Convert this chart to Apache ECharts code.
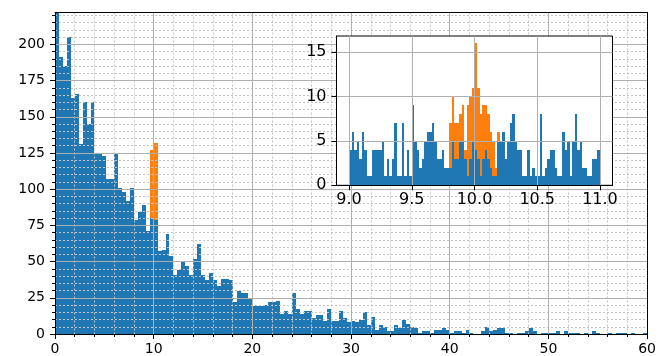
<!DOCTYPE html>
<html>
<head>
<meta charset="utf-8">
<script src="https://cdn.jsdelivr.net/npm/echarts@6/dist/echarts.min.js"></script>
<style>
  html, body { margin: 0; padding: 0; background: #ffffff; }
  #chart { width: 659px; height: 356px; }
</style>
</head>
<body>
<div id="chart"></div>
<script>
// ---- Main histogram: counts per 0.4-wide bin over [0, 60) ----
const mainBinStart = 0;
const mainBinWidth = 0.4;
const mainBlue = [
  222, 191, 185, 205, 163, 166, 131, 160, 145, 160,
  125, 124, 123, 107, 107, 125, 101, 98, 92, 101,
  79, 84, 89, 71, 80, 79, 57, 58, 69, 54,
  41, 44, 50, 47, 41, 52, 62, 41, 37, 42,
  37, 33, 38, 38, 37, 22, 30, 28, 28, 24,
  19, 19, 19, 20, 22, 22, 23, 14, 16, 14,
  28, 17, 14, 16, 16, 11, 13, 13, 9, 17,
  9, 9, 16, 11, 8, 9, 8, 10, 15, 6,
  12, 3, 6, 5, 2, 2, 6, 4, 10, 7,
  5, 4, 1, 2, 2, 1, 3, 3, 4, 3,
  1, 2, 2, 1, 3, 1, 0, 0, 2, 5,
  2, 3, 4, 4, 1, 1, 0, 1, 1, 2,
  4, 2, 0, 1, 1, 1, 1, 2, 0, 2,
  1, 1, 1, 0, 1, 0, 2, 1, 0, 0,
  1, 0, 1, 1, 1, 0, 1, 0, 0, 1
];
const mainOrange = [
  0, 0, 0, 0, 0, 0, 0, 0, 0, 0,
  0, 0, 0, 0, 0, 0, 0, 0, 0, 0,
  0, 0, 0, 0, 47, 53, 0, 0, 0, 0,
  0, 0, 0, 0, 0, 0, 0, 0, 0, 0,
  0, 0, 0, 0, 0, 0, 0, 0, 0, 0,
  0, 0, 0, 0, 0, 0, 0, 0, 0, 0,
  0, 0, 0, 0, 0, 0, 0, 0, 0, 0,
  0, 0, 0, 0, 0, 0, 0, 0, 0, 0,
  0, 0, 0, 0, 0, 0, 0, 0, 0, 0,
  0, 0, 0, 0, 0, 0, 0, 0, 0, 0,
  0, 0, 0, 0, 0, 0, 0, 0, 0, 0,
  0, 0, 0, 0, 0, 0, 0, 0, 0, 0,
  0, 0, 0, 0, 0, 0, 0, 0, 0, 0,
  0, 0, 0, 0, 0, 0, 0, 0, 0, 0,
  0, 0, 0, 0, 0, 0, 0, 0, 0, 0
];

// ---- Inset histogram: counts per 0.02-wide bin over [9, 11) ----
const insetBinStart = 9;
const insetBinWidth = 0.02;
const insetBlue = [
  4, 6, 4, 5, 3, 6, 4, 1, 1, 4,
  4, 4, 4, 5, 1, 3, 1, 3, 7, 1,
  1, 7, 1, 4, 1, 9, 5, 4, 2, 3,
  5, 6, 6, 7, 5, 3, 3, 4, 2, 2,
  2, 5, 3, 3, 5, 5, 3, 1, 3, 5,
  4, 3, 1, 3, 4, 3, 2, 1, 1, 5,
  5, 6, 3, 5, 7, 8, 5, 4, 4, 1,
  1, 4, 1, 2, 1, 1, 8, 1, 2, 3,
  4, 4, 2, 1, 1, 6, 4, 5, 1, 5,
  8, 4, 5, 2, 2, 1, 1, 3, 3, 4
];
const insetOrange = [
  0, 0, 0, 0, 0, 0, 0, 0, 0, 0,
  0, 0, 0, 0, 0, 0, 0, 0, 0, 0,
  0, 0, 0, 0, 0, 0, 0, 0, 0, 0,
  0, 0, 0, 0, 0, 0, 0, 0, 0, 0,
  5, 5, 4, 4, 3, 4, 1, 8, 7, 6,
  12, 8, 7, 6, 5, 5, 4, 4, 1, 1,
  0, 0, 0, 0, 0, 0, 0, 0, 0, 0,
  0, 0, 0, 0, 0, 0, 0, 0, 0, 0,
  0, 0, 0, 0, 0, 0, 0, 0, 0, 0,
  0, 0, 0, 0, 0, 0, 0, 0, 0, 0
];

// ---- Axis ranges and tick values ----
const mainXRange = [0, 60];
const mainYRange = [0, 222];
const mainXMajorStep = 10;
const mainXMinorStep = 2;
const mainYTicks = [0, 25, 50, 75, 100, 125, 150, 175, 200];
const mainYMinorStep = 5;
const insetXRange = [8.9, 11.1];
const insetYRange = [0, 16.8];
const insetXTicks = [9.0, 9.5, 10.0, 10.5, 11.0];
const insetYTicks = [0, 5, 10, 15];

// minor y ticks: every step up to the top, skipping the major ones
const mainYMinorTicks = [];
for (let v = mainYMinorStep; v < mainYRange[1]; v += mainYMinorStep) {
  if (mainYTicks.indexOf(v) < 0) mainYMinorTicks.push(v);
}

// stacked histogram rectangles: [left edge, right edge, bottom, top]
function binRects(start, width, lower, upper) {
  return upper.map(function (h, i) {
    const base = lower ? lower[i] : 0;
    return [start + i * width, start + (i + 1) * width, base, base + h];
  });
}

function renderBin(params, api) {
  const p0 = api.coord([api.value(0), api.value(3)]);
  const p1 = api.coord([api.value(1), api.value(2)]);
  const x0 = Math.round(p0[0]), x1 = Math.round(p1[0]);
  const y0 = Math.round(p0[1]), y1 = Math.round(p1[1]);
  if (y1 - y0 <= 0) return null;
  return {
    type: 'rect',
    shape: { x: x0, y: y0, width: x1 - x0, height: y1 - y0 },
    style: { fill: api.visual('color') }
  };
}

const BLUE = '#1f77b4';
const ORANGE = '#ff7f0e';
const FONT = 'DejaVu Sans';
const majorGrid = { show: true, lineStyle: { color: '#b0b0b0', width: 1, type: 'solid' } };
const minorGrid = { show: true, lineStyle: { color: '#c4c4c4', width: 1, type: [2, 2] } };
const spine = { show: true, onZero: false, lineStyle: { color: '#000', width: 1 } };

function blankAxis(extra) {
  return Object.assign({
    type: 'value',
    axisLine: spine,
    axisTick: { show: false },
    axisLabel: { show: false },
    splitLine: { show: false }
  }, extra);
}

const chart = echarts.init(document.getElementById('chart'), null, { renderer: 'canvas' });

chart.setOption({
  animation: false,
  backgroundColor: '#ffffff',
  grid: [
    { left: 55, top: 12.5, right: 7, bottom: 20, z: 0 },
    {
      left: 336.5, top: 36, width: 276, height: 149.3,
      show: true, backgroundColor: '#ffffff', borderColor: '#000', borderWidth: 1, z: 20
    }
  ],
  xAxis: [
    {
      gridIndex: 0, type: 'value', position: 'bottom',
      min: mainXRange[0], max: mainXRange[1], interval: mainXMajorStep,
      axisLine: spine,
      axisTick: { show: true, length: 5, lineStyle: { color: '#000', width: 1 } },
      axisLabel: { color: '#000', fontSize: 14, fontFamily: FONT, margin: 8 },
      splitLine: majorGrid, z: 6
    },
    {
      gridIndex: 0, type: 'value', position: 'bottom',
      min: mainXRange[0], max: mainXRange[1], interval: mainXMinorStep,
      axisLine: { show: false },
      axisTick: { show: true, length: 3, lineStyle: { color: '#000', width: 1 } },
      axisLabel: { show: false },
      splitLine: minorGrid, z: 5
    },
    blankAxis({ gridIndex: 0, position: 'top', min: mainXRange[0], max: mainXRange[1], z: 6 }),
    {
      gridIndex: 1, type: 'value', position: 'bottom',
      min: insetXRange[0], max: insetXRange[1],
      axisLine: spine,
      axisTick: { show: true, length: 5, customValues: insetXTicks, lineStyle: { color: '#000', width: 1 } },
      axisLabel: {
        color: '#000', fontSize: 16, fontFamily: FONT, margin: 7,
        customValues: insetXTicks,
        formatter: function (v) { return Number(v).toFixed(1); }
      },
      splitLine: majorGrid, z: 22
    }
  ],
  yAxis: [
    {
      gridIndex: 0, type: 'value', position: 'left',
      min: mainYRange[0], max: mainYRange[1],
      axisLine: spine,
      axisTick: { show: true, length: 5, customValues: mainYTicks, lineStyle: { color: '#000', width: 1 } },
      axisLabel: { color: '#000', fontSize: 14, fontFamily: FONT, margin: 10, customValues: mainYTicks },
      splitLine: majorGrid, z: 6
    },
    {
      gridIndex: 0, type: 'value', position: 'left',
      min: mainYRange[0], max: mainYRange[1],
      axisLine: { show: false },
      axisTick: { show: true, length: 3, customValues: mainYMinorTicks, lineStyle: { color: '#000', width: 1 } },
      axisLabel: { show: false },
      splitLine: minorGrid, z: 5
    },
    blankAxis({ gridIndex: 0, position: 'right', min: mainYRange[0], max: mainYRange[1], z: 6 }),
    {
      gridIndex: 1, type: 'value', position: 'left',
      min: insetYRange[0], max: insetYRange[1],
      axisLine: spine,
      axisTick: { show: true, length: 5, customValues: insetYTicks, lineStyle: { color: '#000', width: 1 } },
      axisLabel: { color: '#000', fontSize: 16, fontFamily: FONT, margin: 10, customValues: insetYTicks },
      splitLine: majorGrid, z: 22
    }
  ],
  series: [
    {
      type: 'custom', name: 'all', xAxisIndex: 0, yAxisIndex: 0, z: 2,
      itemStyle: { color: BLUE }, renderItem: renderBin,
      encode: { x: [0, 1], y: [2, 3] },
      data: binRects(mainBinStart, mainBinWidth, null, mainBlue)
    },
    {
      type: 'custom', name: 'near 10', xAxisIndex: 0, yAxisIndex: 0, z: 2,
      itemStyle: { color: ORANGE }, renderItem: renderBin,
      encode: { x: [0, 1], y: [2, 3] },
      data: binRects(mainBinStart, mainBinWidth, mainBlue, mainOrange)
    },
    {
      type: 'custom', name: 'all (zoom)', xAxisIndex: 3, yAxisIndex: 3, z: 21,
      itemStyle: { color: BLUE }, renderItem: renderBin,
      encode: { x: [0, 1], y: [2, 3] },
      data: binRects(insetBinStart, insetBinWidth, null, insetBlue)
    },
    {
      type: 'custom', name: 'near 10 (zoom)', xAxisIndex: 3, yAxisIndex: 3, z: 21,
      itemStyle: { color: ORANGE }, renderItem: renderBin,
      encode: { x: [0, 1], y: [2, 3] },
      data: binRects(insetBinStart, insetBinWidth, insetBlue, insetOrange)
    }
  ]
});
</script>
</body>
</html>
